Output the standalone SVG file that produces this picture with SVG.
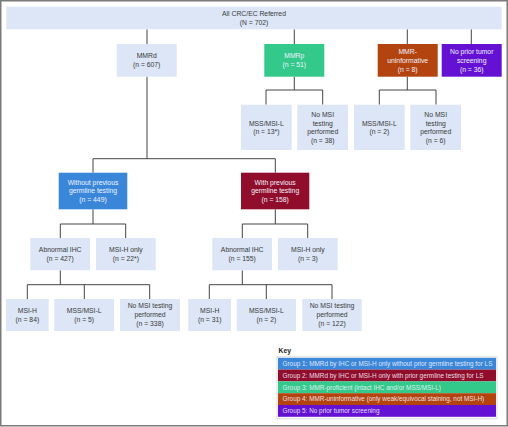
<svg xmlns="http://www.w3.org/2000/svg" width="508" height="427" viewBox="0 0 508 427">
<style>
.bx{fill:#dce6f6}
.t{font-family:"Liberation Sans",Arial,sans-serif;font-size:6.8px;fill:#3a3a3a;text-anchor:middle}
.w{fill:#f0f2ff}
.k{font-family:"Liberation Sans",Arial,sans-serif;font-size:6.4px;fill:#f4f4ff;fill-opacity:0.9}
.ln{stroke:#444;stroke-width:1;fill:none}
</style>
<rect x="0.75" y="0.75" width="506.5" height="425" fill="#fff" stroke="#7a7a7a" stroke-width="1.5"/>
<g id="connectors" class="ln">
<path d="M147 29.3V44M294.3 29.3V44M407.3 29.3V44M471.3 29.3V44"/>
<path d="M294.3 76.7V90M266 90H322.7M266 90V104.7M322.7 90V104.7"/>
<path d="M407.3 76.7V90M379.3 90H436M379.3 90V104.7M436 90V104.7"/>
<path d="M147 76.7V158.7M93 158.7H275.3M93 158.7V172.7M275.3 158.7V172.7"/>
<path d="M93 209.3V224M60.3 224H125.7M60.3 224V238M125.7 224V238"/>
<path d="M275.3 209.3V224M242.3 224H307.7M242.3 224V238M307.7 224V238"/>
<path d="M60.3 270.3V284.7M27.3 284.7H149.7M27.3 284.7V299M84.3 284.7V299M149.7 284.7V299"/>
<path d="M242.3 270.3V284.7M209.3 284.7H332M209.3 284.7V299M266.3 284.7V299M332 284.7V299"/>
</g>
<g id="all"><rect class="bx" x="6.3" y="6.7" width="495.4" height="22.6"/><text class="t" x="254" y="16.3">All CRC/EC Referred</text><text class="t" x="254" y="25">(N = 702)</text></g>
<g id="mmrd"><rect class="bx" x="116.7" y="44" width="60" height="32.7"/><text class="t" x="146.7" y="58">MMRd</text><text class="t" x="146.7" y="66.6">(n = 607)</text></g>
<g id="mmrp"><rect x="264.3" y="44" width="60" height="32.7" fill="#32c98b"/><text class="t w" x="294.3" y="58">MMRp</text><text class="t w" x="294.3" y="66.6">(n = 51)</text></g>
<g id="mmru"><rect x="377.7" y="44" width="60" height="32.7" fill="#b3440f"/><text class="t w" x="407.7" y="54.3">MMR-</text><text class="t w" x="407.7" y="63">uninformative</text><text class="t w" x="407.7" y="71.7">(n = 8)</text></g>
<g id="noprior"><rect x="441.7" y="44" width="60" height="32.7" fill="#6511d4"/><text class="t w" x="471.7" y="54.3">No prior tumor</text><text class="t w" x="471.7" y="63">screening</text><text class="t w" x="471.7" y="71.7">(n = 36)</text></g>
<g id="p_mss"><rect class="bx" x="241" y="104.7" width="50.7" height="45.3"/><text class="t" x="266.3" y="125.6">MSS/MSI-L</text><text class="t" x="266.3" y="134.3">(n = 13*)</text></g>
<g id="p_no"><rect class="bx" x="297.3" y="104.7" width="50.7" height="45.3"/><text class="t" x="322.7" y="117">No MSI</text><text class="t" x="322.7" y="125.6">testing</text><text class="t" x="322.7" y="134.3">performed</text><text class="t" x="322.7" y="143">(n = 38)</text></g>
<g id="u_mss"><rect class="bx" x="354" y="104.7" width="50.7" height="45.3"/><text class="t" x="379.3" y="125.6">MSS/MSI-L</text><text class="t" x="379.3" y="134.3">(n = 2)</text></g>
<g id="u_no"><rect class="bx" x="410.3" y="104.7" width="50.7" height="45.3"/><text class="t" x="435.7" y="117">No MSI</text><text class="t" x="435.7" y="125.6">testing</text><text class="t" x="435.7" y="134.3">performed</text><text class="t" x="435.7" y="143">(n = 6)</text></g>
<g id="without"><rect x="58.7" y="172.7" width="68.6" height="36.6" fill="#3a87d9"/><text class="t w" x="93" y="184.6">Without previous</text><text class="t w" x="93" y="193.3">germline testing</text><text class="t w" x="93" y="202">(n = 449)</text></g>
<g id="with"><rect x="241" y="172.7" width="68.3" height="36.6" fill="#900d2b"/><text class="t w" x="275.2" y="184.6">With previous</text><text class="t w" x="275.2" y="193.3">germline testing</text><text class="t w" x="275.2" y="202">(n = 158)</text></g>
<g id="a_ihc"><rect class="bx" x="30.3" y="238" width="59.7" height="32.3"/><text class="t" x="60.2" y="252.3">Abnormal IHC</text><text class="t" x="60.2" y="261">(n = 427)</text></g>
<g id="a_msi"><rect class="bx" x="96" y="238" width="59.7" height="32.3"/><text class="t" x="125.9" y="252.3">MSI-H only</text><text class="t" x="125.9" y="261">(n = 22*)</text></g>
<g id="b_ihc"><rect class="bx" x="212.3" y="238" width="59.7" height="32.3"/><text class="t" x="242.2" y="252.3">Abnormal IHC</text><text class="t" x="242.2" y="261">(n = 155)</text></g>
<g id="b_msi"><rect class="bx" x="278" y="238" width="59.7" height="32.3"/><text class="t" x="307.9" y="252.3">MSI-H only</text><text class="t" x="307.9" y="261">(n = 3)</text></g>
<g id="a_h"><rect class="bx" x="6" y="299" width="42.7" height="32"/><text class="t" x="27.4" y="313">MSI-H</text><text class="t" x="27.4" y="321.6">(n = 84)</text></g>
<g id="a_mss"><rect class="bx" x="54.3" y="299" width="59.7" height="32"/><text class="t" x="84.2" y="313">MSS/MSI-L</text><text class="t" x="84.2" y="321.6">(n = 5)</text></g>
<g id="a_no"><rect class="bx" x="120" y="299" width="60" height="32"/><text class="t" x="150" y="308.3">No MSI testing</text><text class="t" x="150" y="317">performed</text><text class="t" x="150" y="325.6">(n = 338)</text></g>
<g id="b_h"><rect class="bx" x="188.3" y="299" width="42.7" height="32"/><text class="t" x="209.7" y="313">MSI-H</text><text class="t" x="209.7" y="321.6">(n = 31)</text></g>
<g id="b_mss"><rect class="bx" x="236.7" y="299" width="59.3" height="32"/><text class="t" x="266.3" y="313">MSS/MSI-L</text><text class="t" x="266.3" y="321.6">(n = 2)</text></g>
<g id="b_no"><rect class="bx" x="302.3" y="299" width="59.4" height="32"/><text class="t" x="332" y="308.3">No MSI testing</text><text class="t" x="332" y="317">performed</text><text class="t" x="332" y="325.6">(n = 122)</text></g>
<g id="key">
<text x="278.5" y="353" font-family="Liberation Sans, Arial, sans-serif" font-size="6.8" font-weight="bold" fill="#222">Key</text>
<rect x="277" y="356.8" width="220" height="62" fill="#fff" stroke="#d4d4d4" stroke-width="0.8"/>
<rect x="278" y="357.8" width="218" height="11.8" fill="#3a87d9"/>
<rect x="278" y="369.6" width="218" height="11.8" fill="#900d2b"/>
<rect x="278" y="381.4" width="218" height="11.8" fill="#32c98b"/>
<rect x="278" y="393.2" width="218" height="11.8" fill="#b3440f"/>
<rect x="278" y="405" width="218" height="11.8" fill="#6511d4"/>
<text class="k" x="282.5" y="366">Group 1: MMRd by IHC or MSI-H only without prior germline testing for LS</text>
<text class="k" x="282.5" y="377.8">Group 2: MMRd by IHC or MSI-H only with prior germline testing for LS</text>
<text class="k" x="282.5" y="389.6">Group 3: MMR-proficient  (intact IHC and/or MSS/MSI-L)</text>
<text class="k" x="282.5" y="401.4">Group 4: MMR-uninformative (only weak/equivocal staining, not MSI-H)</text>
<text class="k" x="282.5" y="413.2">Group 5: No prior tumor screening</text>
</g>
</svg>
